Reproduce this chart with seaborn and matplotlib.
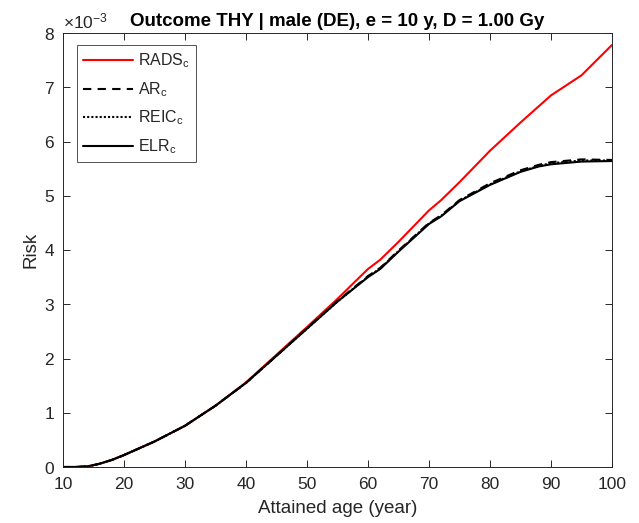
import numpy as np
import pandas as pd
import matplotlib
matplotlib.use("Agg")
import matplotlib.pyplot as plt
import seaborn as sns

# ---- data (risk in units of 1e-3) ----
age = [10, 12, 14, 16, 18, 20, 25, 30, 35, 40, 45, 50, 55, 60, 62, 65, 70, 72, 75, 80, 85, 88, 90, 95, 100]
elr = [0.0, 0.0, 0.01, 0.06, 0.13, 0.22, 0.47, 0.76, 1.13, 1.55, 2.05, 2.55, 3.05, 3.50, 3.65, 3.97, 4.48, 4.62, 4.90, 5.20, 5.44, 5.54, 5.58, 5.63, 5.64]
ar   = [0.0, 0.0, 0.01, 0.06, 0.13, 0.22, 0.47, 0.76, 1.13, 1.55, 2.05, 2.56, 3.06, 3.52, 3.67, 3.99, 4.50, 4.64, 4.92, 5.23, 5.47, 5.57, 5.62, 5.67, 5.66]
reic = [0.0, 0.0, 0.01, 0.06, 0.13, 0.22, 0.47, 0.76, 1.13, 1.55, 2.05, 2.55, 3.05, 3.51, 3.66, 3.98, 4.49, 4.63, 4.91, 5.21, 5.45, 5.55, 5.60, 5.65, 5.65]
rads = [0.0, 0.0, 0.01, 0.06, 0.13, 0.22, 0.47, 0.76, 1.13, 1.56, 2.07, 2.58, 3.10, 3.65, 3.82, 4.15, 4.73, 4.92, 5.25, 5.83, 6.35, 6.65, 6.85, 7.22, 7.78]

sns.set_theme(style="ticks")
plt.rcParams["font.family"] = ["Liberation Sans", "DejaVu Sans"]
plt.rcParams["mathtext.fontset"] = "custom"
plt.rcParams["mathtext.rm"] = "Liberation Sans"
plt.rcParams["mathtext.it"] = "Liberation Sans"

fig = plt.figure(figsize=(6.39, 5.23), dpi=100)
ax = fig.add_axes([63/639, 56/523, (612-63)/639, (467-33)/523])

a = np.array(age)
series = [
    (rads, r"RADS$_\mathrm{c}$", "#ff0000", "-"),
    (ar, r"AR$_\mathrm{c}$", "black", (0, (4, 3))),
    (reic, r"REIC$_\mathrm{c}$", "black", (0, (1, 1))),
    (elr, r"ELR$_\mathrm{c}$", "black", "-"),
]
for vals, lab, col, ls in series:
    df = pd.DataFrame({"age": a, "risk": np.array(vals) * 1e-3})
    sns.lineplot(data=df, x="age", y="risk", ax=ax, color=col, linestyle=ls,
                 linewidth=1.5, label=lab)

ax.set_xlim(10, 100)
ax.set_ylim(0, 8e-3)
ax.set_xticks(np.arange(10, 101, 10))
ax.set_yticks(np.arange(0, 8.01e-3, 1e-3))
ax.ticklabel_format(axis="y", style="sci", scilimits=(0, 0), useMathText=True)
ax.yaxis.get_offset_text().set_fontsize(12.5)
ax.yaxis.get_offset_text().set_color("#262626")

for s in ax.spines.values():
    s.set_visible(True)
    s.set_color("#262626")
    s.set_linewidth(0.7)
ax.tick_params(direction="in", length=5, width=0.7, colors="#262626",
               labelsize=12.5, top=True, right=True)
ax.tick_params(axis="x", pad=7)
ax.tick_params(axis="y", pad=6)

ax.set_xlabel("Attained age (year)", fontsize=13.5, color="#262626", labelpad=6)
ax.set_ylabel("Risk", fontsize=13.5, color="#262626", labelpad=3)
ax.set_title("Outcome THY | male (DE), e = 10 y, D = 1.00 Gy", fontsize=13.5,
             fontweight="bold", color="black", pad=5)

leg = ax.legend(loc="upper left", bbox_to_anchor=(0.0255, 0.972), borderaxespad=0,
                frameon=True, fancybox=False, edgecolor="#262626", fontsize=11.5,
                handlelength=3.1, borderpad=0.4, labelspacing=0.62,
                handletextpad=0.3)
leg.get_frame().set_linewidth(0.7)

fig.savefig("out.png", dpi=100)
